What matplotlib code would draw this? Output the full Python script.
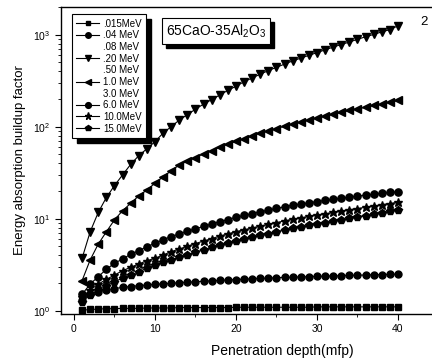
import matplotlib
matplotlib.use("Agg")
import matplotlib.pyplot as plt
from matplotlib.patches import Rectangle
from matplotlib.transforms import IdentityTransform
from matplotlib.ticker import FixedLocator, MultipleLocator, LogLocator, NullFormatter

plt.rcParams['font.family'] = ['Liberation Sans', 'DejaVu Sans']
plt.rcParams['mathtext.fontset'] = 'custom'
plt.rcParams['mathtext.rm'] = 'Liberation Sans'
plt.rcParams['mathtext.it'] = 'Liberation Sans:italic'

depth = list(range(1, 41))
x_ticks = [0, 10, 20, 30, 40]

labels = [".015MeV", ".04 MeV", ".08 MeV", ".20 MeV", ".50 MeV",
          "1.0 MeV", "3.0 MeV", "6.0 MeV", "10.0MeV", "15.0MeV"]

b_015 = [1.01, 1.03, 1.04, 1.05, 1.05, 1.06, 1.06, 1.06, 1.07, 1.07,
         1.07, 1.07, 1.08, 1.08, 1.08, 1.08, 1.08, 1.08, 1.08, 1.09,
         1.09, 1.09, 1.09, 1.09, 1.09, 1.09, 1.09, 1.09, 1.09, 1.10,
         1.10, 1.10, 1.10, 1.10, 1.10, 1.10, 1.10, 1.10, 1.10, 1.10]
b_04 = [1.30, 1.50, 1.60, 1.68, 1.74, 1.79, 1.83, 1.87, 1.90, 1.93,
        1.96, 1.98, 2.01, 2.04, 2.06, 2.09, 2.11, 2.13, 2.16, 2.18,
        2.20, 2.22, 2.24, 2.26, 2.28, 2.30, 2.31, 2.33, 2.34, 2.36,
        2.37, 2.39, 2.40, 2.42, 2.43, 2.44, 2.46, 2.47, 2.48, 2.50]
b_20 = [3.7, 7.2, 11.7, 17.0, 22.9, 29.9, 38.9, 48.4, 57.5, 68.7,
        85.1, 100, 118, 135, 155, 176, 197, 221, 248, 275,
        308, 339, 372, 407, 442, 479, 519, 556, 596, 638,
        684, 733, 782, 832, 891, 948, 1007, 1072, 1135, 1250]
b_10 = [2.12, 3.56, 5.3, 7.2, 9.7, 12.2, 14.7, 17.7, 20.5, 24.3,
        28.5, 33.1, 38.4, 42.2, 46.2, 50.7, 55.0, 59.6, 64.6, 69.2,
        74.1, 79.4, 85.1, 90.2, 95.5, 101, 107, 112, 119, 124,
        130, 136, 143, 150, 157, 162, 170, 176, 184, 193]
b_60 = [1.50, 1.95, 2.34, 2.82, 3.27, 3.65, 4.10, 4.49, 4.96, 5.40,
        5.90, 6.40, 6.80, 7.28, 7.76, 8.24, 8.75, 9.27, 9.79, 10.35,
        10.84, 11.35, 11.86, 12.39, 12.91, 13.46, 14.03, 14.45, 14.89, 15.35,
        15.78, 16.22, 16.67, 17.14, 17.58, 18.03, 18.45, 18.88, 19.28, 19.68]
b_100 = [1.40, 1.68, 1.94, 2.19, 2.44, 2.72, 2.96, 3.22, 3.49, 3.71,
         4.03, 4.38, 4.68, 5.01, 5.37, 5.71, 6.08, 6.46, 6.84, 7.23,
         7.57, 7.93, 8.30, 8.67, 9.06, 9.46, 9.89, 10.2, 10.6, 10.96,
         11.3, 11.7, 12.1, 12.5, 12.9, 13.3, 13.7, 14.2, 14.6, 15.1]
b_150 = [1.25, 1.48, 1.68, 1.85, 2.07, 2.25, 2.44, 2.65, 2.89, 3.14,
         3.35, 3.56, 3.80, 4.06, 4.32, 4.59, 4.88, 5.16, 5.46, 5.77,
         6.04, 6.31, 6.61, 6.90, 7.21, 7.53, 7.85, 8.15, 8.45, 8.77,
         9.08, 9.40, 9.73, 10.07, 10.42, 10.79, 11.17, 11.59, 12.0, 12.45]

series = [
    (labels[0], b_015, 's', 4.4),
    (labels[1], b_04, 'o', 5.0),
    (labels[2], None, None, 0),
    (labels[3], b_20, 'v', 5.2),
    (labels[4], None, None, 0),
    (labels[5], b_10, '<', 5.2),
    (labels[6], None, None, 0),
    (labels[7], b_60, 'o', 5.2),
    (labels[8], b_100, '*', 6.4),
    (labels[9], b_150, 'p', 5.4),
]

W, H = 432, 360
fig = plt.figure(figsize=(4.32, 3.6), dpi=100)
ax_left, ax_right, ax_top, ax_bot = 61, 503, 7, 314
ax = fig.add_axes([ax_left / W, 1 - ax_bot / H, (ax_right - ax_left) / W, (ax_bot - ax_top) / H])

handles = []
for lab, vals, mk, ms in series:
    if vals is None:
        h, = ax.plot([], [], linestyle='none', marker='None', label=lab)
    else:
        h, = ax.plot(depth, vals, color='black', lw=0.8, marker=mk, ms=ms,
                     markerfacecolor='black', markeredgecolor='black', label=lab)
    handles.append(h)

ax.set_yscale('log')
ax.set_xlim(-1.6, -1.6 + (ax_right - ax_left) / 8.1)
ax.set_ylim(0.92, 2000)
ax.xaxis.set_major_locator(FixedLocator(x_ticks))
ax.xaxis.set_minor_locator(MultipleLocator(5))
ax.yaxis.set_major_locator(LogLocator(base=10, numticks=10))
ax.yaxis.set_minor_locator(LogLocator(base=10, subs=range(2, 10), numticks=20))
ax.yaxis.set_minor_formatter(NullFormatter())
ax.tick_params(which='both', direction='out', top=False, right=False, labelsize=7.5)
ax.tick_params(which='major', length=4, width=0.8)
ax.tick_params(which='minor', length=2, width=0.6)
for s in ax.spines.values():
    s.set_linewidth(1.0)

ax.set_xlabel("Penetration depth(mfp)", fontsize=10, labelpad=7)
ax.set_ylabel("Energy absorption buildup factor", fontsize=9.5, labelpad=5)

leg = ax.legend(handles=handles, loc='upper left',
                bbox_to_anchor=(71.7 / W, 1 - 14.3 / H), bbox_transform=fig.transFigure,
                fontsize=7, frameon=True, fancybox=False, edgecolor='black',
                framealpha=1, borderaxespad=0, handlelength=2.4, handletextpad=0.4,
                labelspacing=0.17, borderpad=0.45, markerscale=0.8)
leg.get_frame().set_linewidth(0.8)

# title box
tb = ax.text((216 - ax_left) / (ax_right - ax_left), 1 - (31 - ax_top) / (ax_bot - ax_top),
             r"65CaO-35Al$_2$O$_3$", transform=ax.transAxes, fontsize=10,
             ha='center', va='center', zorder=6,
             bbox=dict(boxstyle='square,pad=0.3', fc='white', ec='black', lw=0.8))

ax.text(424 / W, 1 - 22 / H, "2", transform=fig.transFigure, fontsize=9.5,
        ha='center', va='center')

fig.canvas.draw()
for art, off, z in [(leg, 5, 4.9), (tb, 4, 5.9)]:
    if art is tb:
        bb = tb.get_bbox_patch().get_window_extent()
    else:
        bb = leg.get_frame().get_window_extent()
    r = Rectangle((bb.x0 + off, bb.y0 - off), bb.width, bb.height,
                  transform=IdentityTransform(), facecolor='black', edgecolor='black',
                  zorder=z, clip_on=False)
    ax.add_artist(r)

fig.savefig("out.png", dpi=100)
